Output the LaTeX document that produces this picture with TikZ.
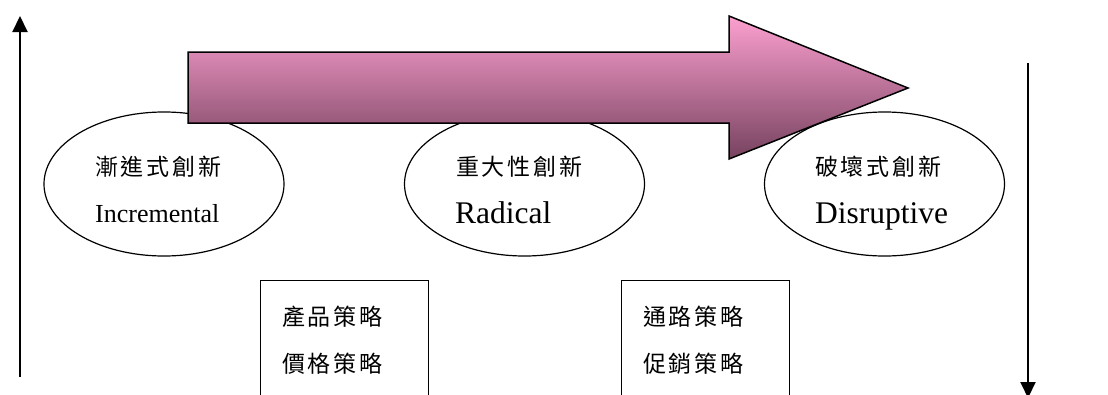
\documentclass[tikz,border=0pt]{standalone}
\usepackage{fontspec}
\setmainfont{Liberation Serif}
\newfontfamily\cjk{Noto Sans CJK TC}
\usetikzlibrary{shapes.geometric,arrows.meta}
\definecolor{arrowtop}{RGB}{252,160,208}
\definecolor{arrowmid}{RGB}{224,134,180}
\definecolor{arrowbot}{RGB}{118,66,94}
\tikzset{
  axisarrow/.style={line width=2pt,-{Triangle[width=15pt,length=16pt]}},
  bigarrow/.style={draw=black,line width=1.5pt,line join=miter,top color=arrowtop,middle color=arrowmid,bottom color=arrowbot},
  stage/.style={ellipse,draw=black,line width=1.2pt,fill=white,minimum width=240pt,minimum height=144pt,inner sep=0pt},
  stratbox/.style={draw=black,line width=1.2pt,fill=white,minimum width=168pt,minimum height=160pt,anchor=north west,inner sep=0pt},
  zh/.style={anchor=base west,inner sep=0pt,font=\cjk\fontsize{23}{28}\selectfont\addfontfeature{LetterSpace=12}},
  en/.style={anchor=base west,inner sep=0pt,font=\fontsize{26}{30}\selectfont},
  enbig/.style={anchor=base west,inner sep=0pt,font=\fontsize{31.5}{36}\selectfont},
}
\begin{document}
\begin{tikzpicture}[x=1pt,y=-1pt]
\useasboundingbox (0,0) rectangle (1108,394);
\clip (0,0) rectangle (1108,394);
\fill[white] (0,0) rectangle (1108,394);
% ellipses
\node[stage] (e1) at (164,184) {};
\node[stage] (e2) at (524.5,184) {};
\node[stage] (e3) at (884.5,184) {};
% big arrow
\path[bigarrow] (188,52) -- (729,52) -- (729,16) -- (908,88) -- (729,159) -- (729,123) -- (188,123) -- cycle;
% ellipse texts
\node[zh] (t1a) at (95,175) {漸進式創新};
\node[en] (t1b) at (95,222) {Incremental};
\node[zh] (t2a) at (456,175) {重大性創新};
\node[enbig] (t2b) at (455,223) {Radical};
\node[zh] (t3a) at (815,175) {破壞式創新};
\node[enbig] (t3b) at (815,223) {Disruptive};
% boxes
\node[stratbox] (b1) at (260,280) {};
\node[stratbox] (b2) at (621,280) {};
\node[zh] (b1a) at (282,325) {產品策略};
\node[zh] (b1b) at (282,372) {價格策略};
\node[zh] (b2a) at (643,325) {通路策略};
\node[zh] (b2b) at (643,372) {促銷策略};
% axis arrows
\coordinate (ub) at (20,377);
\coordinate (ut) at (20,16);
\coordinate (dt) at (1028,63);
\coordinate (db) at (1028,398);
\draw[axisarrow] (ub) -- (ut);
\draw[axisarrow] (dt) -- (db);
\end{tikzpicture}
\end{document}
